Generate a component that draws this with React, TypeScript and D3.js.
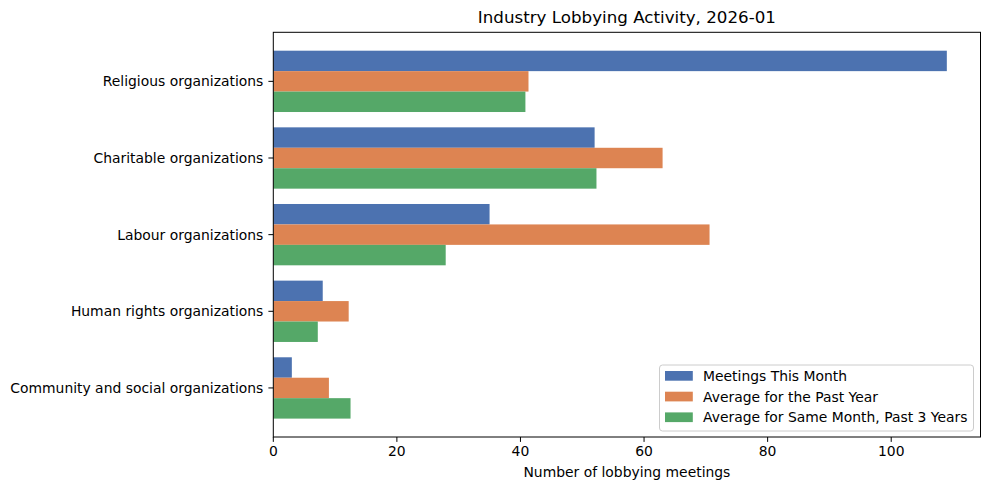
import React from "react";
import * as d3 from "d3";

const categories = [
  "Religious organizations",
  "Charitable organizations",
  "Labour organizations",
  "Human rights organizations",
  "Community and social organizations",
];
const seriesNames = [
  "Meetings This Month",
  "Average for the Past Year",
  "Average for Same Month, Past 3 Years",
];
const meetingsThisMonth = [109, 52, 35, 8, 3];
const avgPastYear = [41.3, 63.0, 70.6, 12.2, 9.0];
const avgSameMonth3Y = [40.8, 52.3, 27.9, 7.2, 12.5];
const xTicks = [0, 20, 40, 60, 80, 100];
const colors = ["#4C72B0", "#DD8452", "#55A868"];

const W = 990;
const H = 491;
const M = { left: 273.3, right: 980.5, top: 32.3, bottom: 437 };
const FONT = "DejaVu Sans, sans-serif";

export default function App() {
  const series = [meetingsThisMonth, avgPastYear, avgSameMonth3Y];
  const maxV = d3.max(series.flat()) as number;
  const x = d3.scaleLinear().domain([0, maxV * 1.05]).range([M.left, M.right]);
  const n = categories.length;
  const barH = 0.8 / 3;
  const lo = -0.4;
  const hi = n - 1 + 0.4;
  const pad = (hi - lo) * 0.05;
  const y = d3.scaleLinear().domain([lo - pad, hi + pad]).range([M.top, M.bottom]);

  return (
    <svg
      width={W}
      height={H}
      style={{ position: "absolute", left: 0, top: 0, background: "#fff" }}
      fontFamily={FONT}
    >
      <rect x={0} y={0} width={W} height={H} fill="#fff" />
      {series.map((vals, si) =>
        vals.map((v, ci) => {
          const c = ci + (si - 1) * barH;
          return (
            <rect
              key={`${si}-${ci}`}
              x={x(0)}
              y={y(c - barH / 2)}
              width={x(v) - x(0)}
              height={y(c + barH / 2) - y(c - barH / 2)}
              fill={colors[si]}
            />
          );
        })
      )}
      <rect
        x={M.left}
        y={M.top}
        width={M.right - M.left}
        height={M.bottom - M.top}
        fill="none"
        stroke="#000"
        strokeWidth={1}
      />
      {xTicks.map((t) => (
        <g key={t}>
          <line x1={x(t)} x2={x(t)} y1={M.bottom} y2={M.bottom + 4.9} stroke="#000" strokeWidth={1} />
          <text x={x(t)} y={M.bottom + 19} textAnchor="middle" fontSize={13.9} fill="#000">
            {t}
          </text>
        </g>
      ))}
      {categories.map((c, i) => (
        <g key={c}>
          <line x1={M.left - 4.9} x2={M.left} y1={y(i)} y2={y(i)} stroke="#000" strokeWidth={1} />
          <text
            x={M.left - 10}
            y={y(i)}
            dy="0.35em"
            textAnchor="end"
            fontSize={13.9}
            fill="#000"
          >
            {c}
          </text>
        </g>
      ))}
      <text x={(M.left + M.right) / 2} y={23} textAnchor="middle" fontSize={16.7} fill="#000">
        Industry Lobbying Activity, 2026-01
      </text>
      <text x={(M.left + M.right) / 2} y={477} textAnchor="middle" fontSize={13.9} fill="#000">
        Number of lobbying meetings
      </text>
      <g>
        <rect
          x={659.5}
          y={365}
          width={314}
          height={66}
          rx={3}
          fill="#fff"
          fillOpacity={0.8}
          stroke="#ccc"
          strokeWidth={1}
        />
        {seriesNames.map((s, i) => (
          <g key={s}>
            <rect x={665} y={371 + i * 20.7} width={27.8} height={9.7} fill={colors[i]} />
            <text x={703} y={376 + i * 20.7} dy="0.35em" fontSize={13.9} fill="#000">
              {s}
            </text>
          </g>
        ))}
      </g>
    </svg>
  );
}
